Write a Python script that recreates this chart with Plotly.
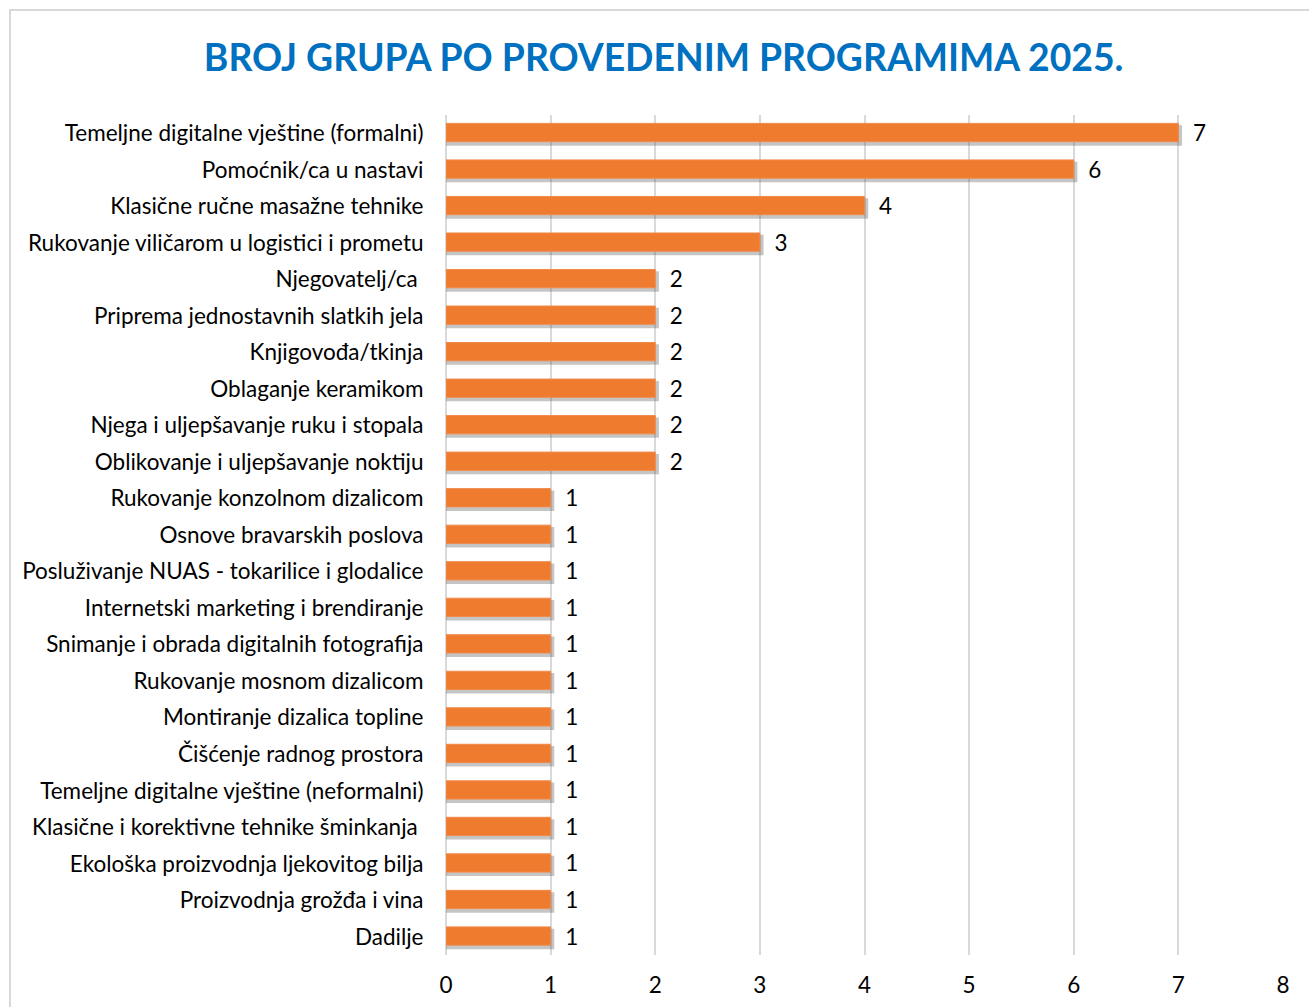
import plotly.graph_objects as go

categories = [
    "Temeljne digitalne vještine (formalni)",
    "Pomoćnik/ca u nastavi",
    "Klasične ručne masažne tehnike",
    "Rukovanje viličarom u logistici i prometu",
    "Njegovatelj/ca ",
    "Priprema jednostavnih slatkih jela",
    "Knjigovođa/tkinja",
    "Oblaganje keramikom",
    "Njega i uljepšavanje ruku i stopala",
    "Oblikovanje i uljepšavanje noktiju",
    "Rukovanje konzolnom dizalicom",
    "Osnove bravarskih poslova",
    "Posluživanje NUAS - tokarilice i glodalice",
    "Internetski marketing i brendiranje",
    "Snimanje i obrada digitalnih fotografija",
    "Rukovanje mosnom dizalicom",
    "Montiranje dizalica topline",
    "Čišćenje radnog prostora",
    "Temeljne digitalne vještine (neformalni)",
    "Klasične i korektivne tehnike šminkanja ",
    "Ekološka proizvodnja ljekovitog bilja",
    "Proizvodnja grožđa i vina",
    "Dadilje",
]
values = [7, 6, 4, 3, 2, 2, 2, 2, 2, 2, 1, 1, 1, 1, 1, 1, 1, 1, 1, 1, 1, 1, 1]
x_ticks = [0, 1, 2, 3, 4, 5, 6, 7, 8]
title_text = "BROJ GRUPA PO PROVEDENIM PROGRAMIMA 2025."

FONT = "Lato"
LABEL_SIZE = 22.5

fig = go.Figure()

# soft drop shadow under each bar
fig.add_trace(go.Bar(
    y=categories, x=[v + 0.035 for v in values], orientation="h",
    marker=dict(color="rgba(90,90,90,0.35)", line=dict(width=0)),
    width=0.56, offset=-0.22, hoverinfo="skip", showlegend=False,
))

fig.add_trace(go.Bar(
    y=categories, x=values, orientation="h",
    marker=dict(color="#EF7B2E", line=dict(color="#F08A4B", width=1)),
    width=0.5, offset=-0.27,
    text=values, texttemplate="  %{x}", textposition="outside",
    constraintext="none",
    textfont=dict(family=FONT, size=LABEL_SIZE, color="#000000"),
    cliponaxis=False, showlegend=False,
))

fig.update_layout(
    width=1309, height=1007,
    margin=dict(l=446, r=26, t=115, b=52, autoexpand=False),
    paper_bgcolor="white", plot_bgcolor="white",
    barmode="overlay",
    title=dict(text="<b>" + title_text + "</b>", x=0.507, xref="container", xanchor="center",
               y=1 - 58 / 1007, yref="container", yanchor="middle",
               font=dict(family=FONT, size=37.3, color="#0070C0")),
    font=dict(family=FONT, size=LABEL_SIZE, color="#000000"),
    xaxis=dict(range=[0, 8], tickvals=x_ticks, showgrid=True, gridcolor="#D9D9D9", gridwidth=2,
               zeroline=True, zerolinecolor="#D9D9D9", zerolinewidth=2, automargin=False,
               ticks="outside", ticklen=10, tickcolor="rgba(0,0,0,0)",
               tickfont=dict(family=FONT, size=LABEL_SIZE, color="#000000"), fixedrange=True),
    yaxis=dict(autorange="reversed", showgrid=False, ticks="outside", ticklen=17, automargin=False,
               tickcolor="rgba(0,0,0,0)", tickfont=dict(family=FONT, size=LABEL_SIZE, color="#000000"),
               fixedrange=True),
    shapes=[dict(type="rect", xref="paper", yref="paper",
                 x0=(10 - 446) / 837, x1=1.2, y0=-0.3, y1=(955 - 10) / 840,
                 line=dict(color="#D9D9D9", width=2), fillcolor="rgba(0,0,0,0)", layer="below")],
)

fig.write_html("out.html", config={"displayModeBar": False},
               post_script="document.body.style.margin='0';document.body.style.overflow='hidden';")
